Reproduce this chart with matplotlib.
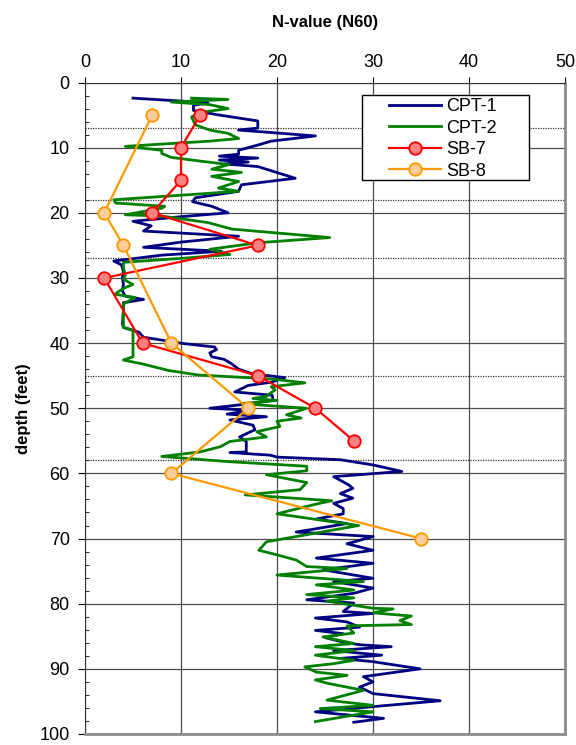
import numpy as np
import matplotlib
matplotlib.use("Agg")
import matplotlib.pyplot as plt
from matplotlib.ticker import MultipleLocator
from matplotlib.patches import Rectangle

plt.rcParams['font.family'] = ['Liberation Sans', 'DejaVu Sans']

# CPT-1 profile (depth ft, N60)
cpt1_depth = [2.4, 3.1, 3.5, 4.3, 5.0, 5.9, 7.0, 7.3, 8.2, 9.0, 9.6, 10.4, 11.0, 11.3, 11.6,
              11.9, 12.2, 12.5, 12.9, 14.7, 15.7, 16.7, 17.7, 18.3, 19.0, 20.0, 20.6, 21.3,
              22.0, 22.8, 23.6, 24.5, 25.3, 25.9, 26.5, 27.4, 28.0, 29.0, 30.0, 31.0, 32.0,
              32.8, 33.3, 33.8, 35.0, 37.0, 37.6, 38.3, 39.1, 40.1, 40.6, 41.0, 41.5, 42.1,
              42.5, 43.2, 44.0, 44.7, 45.3, 46.0, 46.5, 47.5, 48.0, 48.8, 49.5, 50.0, 50.3,
              50.9, 51.3, 51.8, 52.6, 53.3, 54.4, 55.1, 56.7, 56.8, 57.2, 57.5, 57.9, 58.7,
              59.7, 60.5, 61.3, 61.8, 62.3, 63.1, 63.8, 64.6, 65.4, 66.2, 67.0, 67.7, 69.0,
              69.7, 70.8, 71.8, 73.0, 73.8, 74.8, 76.1, 76.6, 77.6, 78.4, 79.4, 79.9, 81.2,
              81.5, 82.2, 82.8, 83.6, 84.1, 84.6, 85.2, 85.9, 86.3, 86.6, 87.2, 87.9, 88.4,
              88.9, 90.0, 91.2, 92.0, 92.8, 93.8, 94.9, 95.8, 96.6, 97.6, 98.2]
cpt1_n = [5.0, 12.8, 11.3, 11.3, 14.0, 18.0, 18.0, 16.0, 24.0, 19.4, 18.0, 16.0, 16.0, 14.0, 18.0,
          14.0, 17.0, 14.5, 18.0, 21.9, 16.3, 16.0, 11.5, 11.2, 13.2, 14.9, 10.0, 5.0,
          6.9, 6.1, 16.0, 10.0, 6.1, 14.2, 8.0, 3.0, 3.8, 4.0, 3.9, 4.0, 3.9,
          4.2, 6.1, 4.0, 4.0, 3.9, 4.0, 5.6, 6.1, 10.4, 13.5, 13.7, 13.0, 13.2,
          14.5, 15.3, 16.0, 17.4, 20.8, 19.4, 17.0, 15.6, 19.5, 19.6, 16.0, 13.0, 17.2,
          14.8, 18.9, 15.1, 17.5, 17.7, 16.1, 16.8, 16.8, 15.1, 19.3, 20.0, 26.6, 30.0,
          33.0, 25.9, 26.9, 27.5, 27.9, 26.6, 27.9, 25.9, 26.9, 26.9, 24.1, 27.3, 22.0,
          30.0, 27.3, 30.0, 24.1, 30.0, 24.8, 30.0, 25.9, 30.0, 28.0, 23.1, 28.0, 26.9,
          30.0, 24.0, 27.3, 28.6, 24.0, 26.9, 25.0, 26.9, 28.6, 31.9, 25.9, 30.9, 26.6,
          30.0, 34.9, 29.0, 30.0, 28.6, 30.0, 37.0, 30.0, 24.0, 31.1, 28.0]

# CPT-2 profile (depth ft, N60)
cpt2_depth = [2.4, 2.6, 3.0, 3.4, 4.0, 4.6, 5.3, 6.5, 7.3, 7.8, 8.6, 9.0, 9.8, 10.4, 10.9,
              11.5, 12.1, 12.6, 13.3, 13.8, 14.4, 15.2, 16.2, 16.7, 17.3, 18.0, 18.5, 19.0,
              19.3, 20.3, 20.5, 21.5, 22.5, 23.8, 24.6, 25.6, 26.4, 27.0, 27.6, 28.5, 29.5,
              30.2, 31.0, 31.6, 32.5, 33.0, 34.0, 36.0, 37.6, 38.0, 40.0, 42.1, 42.6, 43.2,
              44.2, 44.9, 45.5, 46.1, 46.7, 47.2, 47.7, 48.2, 48.5, 48.8, 49.3, 50.0, 51.0,
              51.5, 52.0, 52.8, 53.6, 54.4, 55.1, 55.9, 56.7, 57.4, 58.2, 58.9, 59.6, 60.2,
              61.4, 62.5, 63.3, 64.2, 64.7, 66.2, 68.0, 70.5, 71.8, 72.5, 73.3, 74.3, 74.6,
              75.6, 76.6, 77.1, 77.9, 78.6, 79.1, 79.6, 80.7, 80.8, 81.4, 81.9, 82.6, 83.2,
              83.4, 84.5, 85.1, 86.1, 86.6, 87.2, 87.9, 88.7, 89.2, 89.7, 90.5, 91.0, 91.7,
              92.2, 93.3, 94.8, 95.6, 96.1, 96.6, 98.1]
cpt2_n = [11.1, 14.9, 9.0, 13.0, 14.9, 12.0, 11.1, 11.5, 13.0, 14.9, 16.0, 13.0, 4.2, 8.0, 8.0,
          9.0, 12.2, 15.0, 13.2, 16.3, 13.2, 16.0, 13.9, 16.0, 10.0, 3.0, 3.2, 8.3,
          8.0, 4.2, 8.0, 12.8, 15.3, 25.5, 18.0, 13.0, 15.1, 10.0, 4.0, 4.0, 4.2,
          4.0, 5.0, 4.0, 3.1, 5.2, 4.0, 4.0, 4.0, 5.0, 5.0, 5.0, 4.0, 6.0,
          8.7, 11.8, 19.4, 22.9, 19.4, 19.8, 19.3, 18.9, 17.5, 20.0, 16.3, 23.1, 21.0,
          22.5, 20.0, 20.3, 17.9, 18.9, 15.1, 14.1, 12.0, 8.0, 15.0, 23.1, 23.1, 18.9,
          23.1, 22.4, 16.7, 25.7, 24.1, 20.0, 28.5, 18.9, 18.1, 20.0, 22.0, 23.1, 27.3,
          20.0, 29.0, 24.1, 28.0, 23.1, 28.0, 25.2, 30.0, 32.1, 30.0, 34.0, 32.8, 34.0,
          27.3, 28.0, 24.8, 28.0, 24.0, 28.0, 24.0, 28.0, 25.9, 22.9, 24.1, 27.3, 24.0,
          25.2, 29.0, 25.2, 30.0, 24.5, 30.0, 24.0]

# SPT borings
sb7_depth = [5, 10, 15, 20, 25, 30, 40, 45, 50, 55]
sb7_n = [12, 10, 10, 7, 18, 2, 6, 18, 24, 28]
sb8_depth = [5, 20, 25, 40, 50, 60, 70]
sb8_n = [7, 2, 4, 9, 17, 9, 35]

layer_depths = [7, 18, 27, 45, 58]

W, H = 576, 745
fig = plt.figure(figsize=(W / 100, H / 100), dpi=100)
ax = fig.add_axes([85 / W, 1 - 734 / H, 480 / W, (734 - 82.5) / H])

for d in layer_depths:
    ax.axhline(d, color='0.2', linestyle=(0, (1, 1)), linewidth=0.9, zorder=1)

ax.plot(cpt1_n, cpt1_depth, color='#000080', linewidth=2.0, label='CPT-1', zorder=3)
ax.plot(cpt2_n, cpt2_depth, color='#008000', linewidth=2.0, label='CPT-2', zorder=3)
ax.plot(sb7_n, sb7_depth, color='#ff0000', linewidth=1.6, marker='o', markersize=9,
        markerfacecolor='#ff8080', markeredgecolor='#ff0000', markeredgewidth=1.3,
        label='SB-7', zorder=4)
ax.plot(sb8_n, sb8_depth, color='#ff9900', linewidth=1.6, marker='o', markersize=9,
        markerfacecolor='#ffcc99', markeredgecolor='#ff9900', markeredgewidth=1.3,
        label='SB-8', zorder=4)

ax.set_xlim(0, 50)
ax.set_ylim(100, 0)
ax.xaxis.set_major_locator(MultipleLocator(10))
ax.yaxis.set_major_locator(MultipleLocator(10))
ax.yaxis.set_minor_locator(MultipleLocator(2))
ax.xaxis.tick_top()
ax.xaxis.set_label_position('top')
ax.tick_params(axis='x', which='major', direction='out', length=4, labelsize=13, pad=4)
ax.tick_params(axis='y', which='major', direction='out', length=5, labelsize=13, pad=6)
ax.tick_params(axis='y', which='minor', direction='in', length=3)

ax.grid(which='major', color='0.3', linewidth=0.9)
ax.set_axisbelow(True)

ax.set_xlabel('N-value (N60)', fontsize=12, fontweight='bold', labelpad=20)
ax.set_ylabel('depth (feet)', fontsize=12, fontweight='bold', labelpad=6)

ax.spines['left'].set_color('0.2')
ax.spines['top'].set_color('0.2')
ax.spines['right'].set_color('0.55')
ax.spines['bottom'].set_color('0.55')
ax.spines['right'].set_linewidth(2)
ax.spines['bottom'].set_linewidth(2)

# legend box, Excel style: wide frame with the entries inside
box = Rectangle((362 / W, 1 - 180 / H), (529 - 362) / W, (180 - 95) / H,
                transform=fig.transFigure, facecolor='white', edgecolor='black',
                linewidth=1, zorder=4.9, clip_on=False)
ax.add_patch(box)
leg = ax.legend(loc='upper left', bbox_to_anchor=(389 / W, 1 - 98 / H),
                bbox_transform=fig.transFigure, fontsize=13, frameon=False,
                handlelength=2.9, handletextpad=0.28, labelspacing=0.25,
                borderpad=0, borderaxespad=0)
leg.set_zorder(5)

fig.savefig('out.png', dpi=100)
